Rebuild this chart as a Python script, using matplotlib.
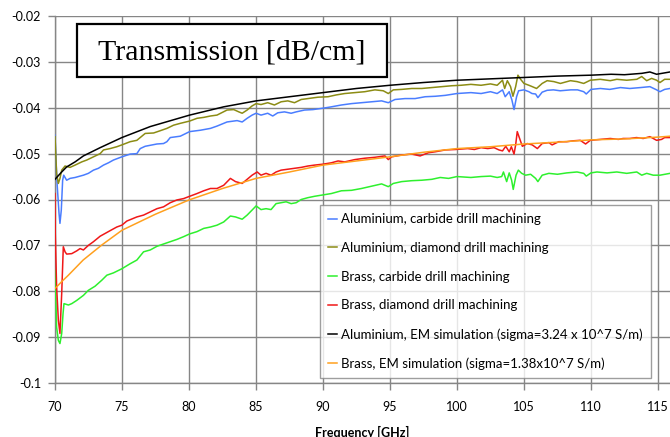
import matplotlib
matplotlib.use("Agg")
import matplotlib.pyplot as plt
from matplotlib.patches import Rectangle

# ---------------- data (frequency GHz, transmission dB/cm) ----------------
al_carbide = [
    (70.00, -0.0460), (70.07, -0.0514), (70.17, -0.0572), (70.30, -0.0630), (70.37, -0.0652),
    (70.47, -0.0623), (70.57, -0.0558), (70.65, -0.0547), (70.87, -0.0558), (71.12, -0.0554),
    (71.50, -0.0552), (71.87, -0.0549), (72.12, -0.0547), (72.49, -0.0543), (72.87, -0.0536),
    (73.24, -0.0532), (73.62, -0.0525), (73.99, -0.0520), (74.36, -0.0514), (74.99, -0.0507),
    (75.61, -0.0501), (76.11, -0.0500), (76.36, -0.0489), (76.73, -0.0484), (77.61, -0.0479),
    (78.10, -0.0478), (78.35, -0.0474), (78.60, -0.0465), (79.35, -0.0462), (80.05, -0.0452),
    (80.85, -0.0449), (81.60, -0.0445), (82.09, -0.0440), (82.84, -0.0431), (83.59, -0.0428),
    (83.97, -0.0431), (84.34, -0.0423), (84.71, -0.0416), (85.01, -0.0412), (85.375, -0.0416),
    (85.875, -0.0412), (86.25, -0.0418), (86.625, -0.0411), (87.125, -0.0409), (87.625, -0.0412),
    (88.0, -0.0409), (88.625, -0.0405), (89.25, -0.0404), (90.0, -0.0401), (90.625, -0.0398),
    (91.375, -0.0394), (92.125, -0.0391), (92.875, -0.0389), (93.625, -0.0387), (94.375, -0.0385),
    (94.875, -0.0389), (95.375, -0.0382), (96.125, -0.0380), (96.875, -0.0380), (97.625, -0.0376),
    (98.375, -0.0375), (99.125, -0.0373), (100.0, -0.0369), (101.04, -0.0367), (101.8, -0.0369),
    (102.5, -0.0365), (103.0, -0.0369), (103.4, -0.0361), (103.6, -0.0376), (103.9, -0.0365),
    (104.1, -0.0383), (104.26, -0.0404), (104.45, -0.0376), (104.6, -0.0363), (105.0, -0.0361),
    (105.37, -0.0365), (105.6, -0.0369), (105.87, -0.0370), (106.04, -0.0378), (106.36, -0.0366),
    (106.73, -0.0362), (107.2, -0.0361), (107.7, -0.0363), (108.5, -0.0361), (109.0, -0.0361),
    (109.46, -0.0365), (109.65, -0.0370), (110.0, -0.0360), (110.7, -0.0358), (111.4, -0.0360),
    (112.2, -0.0356), (112.9, -0.0358), (113.7, -0.0356), (114.4, -0.0354), (114.9, -0.0361),
    (115.15, -0.0365), (115.5, -0.0360), (115.9, -0.0358),
]

al_diamond = [
    (70.00, -0.0463), (70.12, -0.0543), (70.25, -0.0565), (70.37, -0.0554), (70.50, -0.0536),
    (70.75, -0.0527), (71.12, -0.0530), (71.50, -0.0525), (72.00, -0.0518), (72.37, -0.0514),
    (72.87, -0.0507), (73.37, -0.0500), (73.62, -0.0492), (74.11, -0.0489), (74.61, -0.0485),
    (74.99, -0.0481), (75.61, -0.0474), (76.11, -0.0471), (76.73, -0.0456), (77.36, -0.0455),
    (77.86, -0.0450), (78.35, -0.0445), (78.85, -0.0438), (79.35, -0.0434), (80.05, -0.0429),
    (80.60, -0.0423), (81.10, -0.0421), (81.60, -0.0418), (82.09, -0.0416), (82.84, -0.0405),
    (83.34, -0.0404), (83.72, -0.0409), (83.97, -0.0412), (84.34, -0.0405), (84.71, -0.0396),
    (85.01, -0.0391), (85.375, -0.0393), (85.875, -0.0389), (86.375, -0.0394), (86.875, -0.0387),
    (87.375, -0.0385), (87.875, -0.0389), (88.375, -0.0382), (88.875, -0.0380), (89.625, -0.0377),
    (90.375, -0.0376), (91.0, -0.0372), (91.625, -0.0369), (92.375, -0.0367), (93.125, -0.0365),
    (93.875, -0.0361), (94.5, -0.0363), (94.875, -0.0369), (95.25, -0.0361), (95.875, -0.0360),
    (96.625, -0.0358), (97.375, -0.0358), (98.125, -0.0356), (98.875, -0.0354), (99.625, -0.0352),
    (100.3, -0.0351), (101.04, -0.0349), (101.8, -0.0351), (102.5, -0.0348), (103.0, -0.0351),
    (103.4, -0.0340), (103.56, -0.0358), (103.76, -0.0341), (104.0, -0.0354), (104.18, -0.0375),
    (104.38, -0.0354), (104.55, -0.0329), (104.75, -0.0338), (105.0, -0.0347), (105.37, -0.0351),
    (105.62, -0.0354), (105.94, -0.0358), (106.36, -0.0347), (106.73, -0.0341), (107.23, -0.0343),
    (107.72, -0.0347), (108.47, -0.0341), (108.96, -0.0343), (109.46, -0.0347), (109.95, -0.0340),
    (110.69, -0.0338), (111.44, -0.0341), (111.93, -0.0338), (112.67, -0.0340), (113.42, -0.0338),
    (113.79, -0.0332), (114.16, -0.0341), (114.53, -0.0336), (114.9, -0.0340), (115.15, -0.0345),
    (115.5, -0.0338), (115.9, -0.0338),
]

brass_carbide = [
    (70.00, -0.0754), (70.12, -0.0878), (70.25, -0.0907), (70.37, -0.0914), (70.50, -0.0892),
    (70.60, -0.0849), (70.67, -0.0827), (71.00, -0.0830), (71.25, -0.0827), (71.62, -0.0820),
    (72.12, -0.0809), (72.49, -0.0798), (72.99, -0.0789), (73.49, -0.0776), (73.87, -0.0765),
    (74.36, -0.0760), (74.99, -0.0751), (75.61, -0.0740), (76.11, -0.0732), (76.61, -0.0714),
    (77.11, -0.0710), (77.61, -0.0702), (78.10, -0.0697), (78.60, -0.0692), (79.10, -0.0687),
    (79.60, -0.0681), (80.05, -0.0675), (80.60, -0.0670), (81.10, -0.0663), (81.60, -0.0660),
    (82.09, -0.0656), (82.59, -0.0649), (83.09, -0.0636), (83.47, -0.0638), (83.97, -0.0643),
    (84.34, -0.0634), (84.71, -0.0623), (85.01, -0.0614), (85.375, -0.0622), (85.75, -0.0620),
    (86.125, -0.0622), (86.5, -0.0609), (86.875, -0.0607), (87.25, -0.0605), (87.625, -0.0609),
    (88.0, -0.0607), (88.375, -0.0600), (88.875, -0.0596), (89.375, -0.0593), (90.0, -0.0590),
    (90.625, -0.0587), (91.375, -0.0581), (92.125, -0.0580), (92.875, -0.0576), (93.625, -0.0571),
    (94.375, -0.0566), (94.875, -0.0572), (95.25, -0.0565), (95.875, -0.0561), (96.625, -0.0559),
    (97.375, -0.0558), (98.125, -0.0556), (98.75, -0.0552), (99.375, -0.0554), (100.0, -0.0550),
    (101.04, -0.0552), (101.8, -0.0550), (102.5, -0.0549), (103.0, -0.0552), (103.34, -0.0550),
    (103.47, -0.0540), (103.71, -0.0561), (103.9, -0.0542), (104.08, -0.0558), (104.2, -0.0578),
    (104.41, -0.0547), (104.58, -0.0536), (104.83, -0.0543), (105.12, -0.0547), (105.5, -0.0545),
    (105.87, -0.0554), (106.04, -0.0561), (106.36, -0.0547), (106.86, -0.0543), (107.5, -0.0545),
    (108.2, -0.0542), (108.96, -0.0540), (109.46, -0.0543), (109.65, -0.0549), (110.0, -0.0542),
    (110.45, -0.0540), (111.2, -0.0542), (111.93, -0.0540), (112.67, -0.0543), (113.42, -0.0540),
    (113.79, -0.0547), (114.16, -0.0543), (114.65, -0.0547), (115.15, -0.0547), (115.9, -0.0543),
]

brass_diamond = [
    (70.00, -0.0587), (70.02, -0.0674), (70.12, -0.0790), (70.25, -0.0863), (70.37, -0.0892),
    (70.50, -0.0805), (70.62, -0.0703), (70.75, -0.0714), (70.87, -0.0719), (71.25, -0.0718),
    (71.62, -0.0712), (71.87, -0.0707), (72.12, -0.0710), (72.49, -0.0700), (72.87, -0.0692),
    (73.37, -0.0680), (73.74, -0.0674), (74.11, -0.0668), (74.61, -0.0660), (74.99, -0.0656),
    (75.36, -0.0647), (76.11, -0.0638), (76.61, -0.0634), (77.11, -0.0627), (77.61, -0.0620),
    (78.10, -0.0616), (78.60, -0.0607), (79.10, -0.0601), (79.60, -0.0598), (80.05, -0.0593),
    (80.60, -0.0587), (81.10, -0.0581), (81.60, -0.0576), (82.09, -0.0576), (82.59, -0.0569),
    (83.09, -0.0554), (83.47, -0.0561), (83.97, -0.0565), (84.34, -0.0556), (84.71, -0.0547),
    (85.09, -0.0540), (85.375, -0.0547), (85.75, -0.0543), (86.125, -0.0547), (86.5, -0.0540),
    (86.875, -0.0536), (87.375, -0.0534), (87.875, -0.0532), (88.375, -0.0530), (88.875, -0.0527),
    (89.375, -0.0525), (90.0, -0.0523), (90.625, -0.0520), (91.125, -0.0516), (91.625, -0.0518),
    (92.375, -0.0513), (93.125, -0.0510), (93.875, -0.0508), (94.625, -0.0505), (94.875, -0.0513),
    (95.125, -0.0507), (95.875, -0.0503), (96.625, -0.0501), (97.25, -0.0505), (97.875, -0.0498),
    (98.375, -0.0496), (99.125, -0.0492), (99.875, -0.0491), (100.8, -0.0489), (101.3, -0.0491),
    (101.8, -0.0487), (102.3, -0.0489), (102.77, -0.0487), (103.14, -0.0492), (103.4, -0.0494),
    (103.64, -0.0484), (103.9, -0.0496), (104.06, -0.0485), (104.26, -0.0501), (104.38, -0.0481),
    (104.5, -0.0452), (104.7, -0.0469), (104.88, -0.0484), (105.25, -0.0478), (105.62, -0.0481),
    (106.0, -0.0489), (106.36, -0.0478), (106.86, -0.0476), (107.1, -0.0481), (107.6, -0.0474),
    (108.2, -0.0474), (108.7, -0.0472), (109.2, -0.0471), (109.6, -0.0479), (109.95, -0.0471),
    (110.7, -0.0469), (111.44, -0.0467), (112.05, -0.0469), (112.4, -0.0467), (112.9, -0.0467),
    (113.4, -0.0465), (113.9, -0.0467), (114.4, -0.0463), (114.9, -0.0471), (115.27, -0.0469),
    (115.5, -0.0465), (115.9, -0.0465),
]

al_sim = [
    (70.0, -0.0556), (70.5, -0.0540), (70.87, -0.0529), (71.5, -0.0518), (72.12, -0.0505),
    (73.37, -0.0487), (74.99, -0.0465), (77.11, -0.0441), (80.05, -0.0416), (82.59, -0.0398),
    (85.01, -0.0385), (87.5, -0.0376), (90.0, -0.0367), (92.5, -0.0358), (95.0, -0.0351),
    (97.5, -0.0345), (100.0, -0.0340), (102.5, -0.0337), (105.0, -0.0334), (107.5, -0.0331),
    (110.0, -0.0329), (111.5, -0.0327), (112.5, -0.0328), (113.8, -0.0325), (114.4, -0.0322),
    (114.9, -0.0327), (115.5, -0.0324), (115.9, -0.0322),
]

brass_sim = [
    (70.0, -0.0794), (70.5, -0.0779), (71.0, -0.0765), (72.1, -0.0732), (73.5, -0.0699),
    (75.0, -0.0667), (77.5, -0.0632), (80.0, -0.0601), (82.5, -0.0576), (85.0, -0.0554),
    (87.5, -0.0540), (90.0, -0.0525), (92.5, -0.0516), (95.0, -0.0507), (97.5, -0.0497),
    (100.0, -0.0489), (102.5, -0.0485), (105.0, -0.0479), (107.5, -0.0475), (110.0, -0.0470),
    (112.5, -0.0468), (115.0, -0.0464), (115.9, -0.0462),
]

series_labels = [
    "Aluminium, carbide drill machining",
    "Aluminium, diamond drill machining",
    "Brass, carbide drill machining",
    "Brass, diamond drill machining",
    "Aluminium, EM simulation (sigma=3.24 x 10^7 S/m)",
    "Brass, EM simulation (sigma=1.38x10^7 S/m)",
]
series_colors = ["#4a7dff", "#8c8c14", "#2ef02e", "#f01818", "#000000", "#ffa01e"]

x_ticks = [70, 75, 80, 85, 90, 95, 100, 105, 110, 115]
y_ticks = [-0.1, -0.09, -0.08, -0.07, -0.06, -0.05, -0.04, -0.03, -0.02]
y_tick_labels = ["-0.1", "-0.09", "-0.08", "-0.07", "-0.06", "-0.05", "-0.04", "-0.03", "-0.02"]

title_text = "Transmission [dB/cm]"
x_label = "Frequency [GHz]"

# ---------------- figure ----------------
W, H = 670, 437
fig = plt.figure(figsize=(W / 100, H / 100), dpi=100)
ax = fig.add_axes([55 / W, 1 - 383 / H, 1 - 55 / W, (383 - 16) / H])

ui_font = "Lato"
grid_color = "#868686"

all_series = [al_carbide, al_diamond, brass_carbide, brass_diamond, al_sim, brass_sim]
handles = []
for data, lab, col in zip(all_series, series_labels, series_colors):
    xs = [p[0] for p in data]
    ys = [p[1] for p in data]
    h, = ax.plot(xs, ys, color=col, lw=1.1, label=lab, zorder=3)
    handles.append(h)

ax.set_xlim(70, 115.9)
ax.set_ylim(-0.1, -0.02)
ax.set_xticks(x_ticks)
ax.set_xticklabels([str(t) for t in x_ticks], fontfamily=ui_font, fontsize=9)
ax.set_yticks(y_ticks)
ax.set_yticklabels(y_tick_labels, fontfamily=ui_font, fontsize=9)
ax.grid(True, color=grid_color, lw=1.0)
ax.set_axisbelow(True)
for s in ["top", "right"]:
    ax.spines[s].set_visible(False)
for s in ["left", "bottom"]:
    ax.spines[s].set_color(grid_color)
    ax.spines[s].set_linewidth(1.0)
ax.tick_params(axis="both", direction="out", length=5, color=grid_color, width=1.0)
ax.tick_params(axis="x", pad=8)
ax.tick_params(axis="y", pad=5)

fig.text((55 + 670) / 2 / W, 1 - 432 / H, x_label, ha="center", va="center",
         fontfamily=ui_font, fontweight="bold", fontsize=9)

leg = ax.legend(handles=handles, loc="lower left", bbox_to_anchor=((320 - 55) / 615, (383 - 378) / 367),
                borderaxespad=0, prop={"family": ui_font, "size": 9.5}, frameon=True, fancybox=False,
                handlelength=0.7, handletextpad=0.3, labelspacing=1.27, borderpad=0.6)
leg.get_frame().set_edgecolor(grid_color)
leg.get_frame().set_linewidth(1.0)
leg.set_zorder(5)

# title box
fig.add_artist(Rectangle((77 / W, 1 - 77 / H), 310 / W, 53 / H, transform=fig.transFigure,
                         facecolor="white", edgecolor="black", lw=1.6, zorder=6))
fig.text(232 / W, 1 - 60 / H, title_text, ha="center", va="baseline",
         fontfamily="Liberation Serif", fontsize=21.5, zorder=7)

fig.savefig("out.png", dpi=100)
